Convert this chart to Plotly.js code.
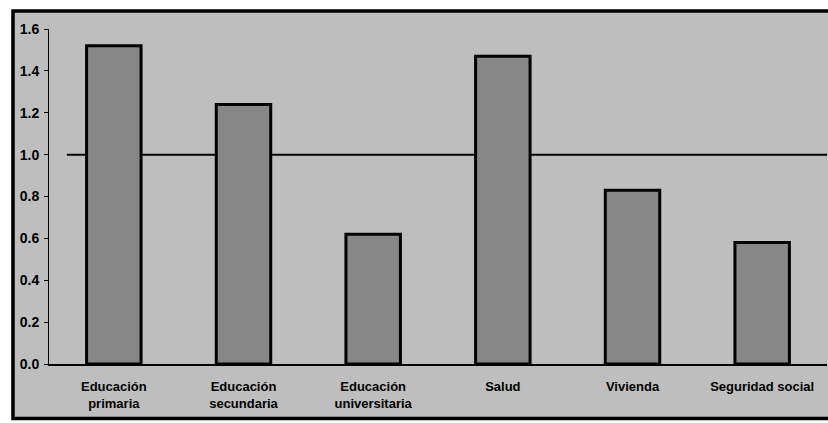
<!DOCTYPE html>
<html>
<head>
<meta charset="utf-8">
<script src="https://cdn.plot.ly/plotly-3.0.1.min.js"></script>
<style>
html,body{margin:0;padding:0;background:#ffffff;}
#chart{width:828px;height:423px;}
</style>
</head>
<body>
<div id="chart"></div>
<script>
const categories = ["Educación<br>primaria", "Educación<br>secundaria", "Educación<br>universitaria", "Salud", "Vivienda", "Seguridad social"];
const values = [1.52, 1.24, 0.62, 1.47, 0.83, 0.58];
const referenceValue = 1.0;
const yTicks = [0, 0.2, 0.4, 0.6, 0.8, 1.0, 1.2, 1.4, 1.6];
const yTickLabels = ["0.0", "0.2", "0.4", "0.6", "0.8", "1.0", "1.2", "1.4", "1.6"];

const trace = {
  type: "bar",
  x: categories,
  y: values,
  marker: {color: "#878787", line: {color: "#000000", width: 3}},
  width: 0.42,
  hoverinfo: "none"
};

const layout = {
  width: 828, height: 423,
  margin: {l: 49, r: 1, t: 29, b: 59},
  paper_bgcolor: "#ffffff",
  plot_bgcolor: "rgba(0,0,0,0)",
  showlegend: false,
  font: {family: "Liberation Sans, Arial, sans-serif", color: "#000000"},
  xaxis: {
    range: [-0.5, 5.5],
    showline: true, linecolor: "#000000", linewidth: 1.5,
    ticks: "", showgrid: false, zeroline: false,
    tickfont: {size: 13, weight: "bold", color: "#000000"},
    ticklabelstandoff: 10
  },
  yaxis: {
    range: [0, 1.6],
    tickvals: yTicks, ticktext: yTickLabels,
    showline: true, linecolor: "#000000", linewidth: 1,
    ticks: "outside", ticklen: 4, tickcolor: "#000000", tickwidth: 1,
    showgrid: false, zeroline: false,
    tickfont: {size: 14, weight: "bold", color: "#000000"},
    ticklabelstandoff: 2
  },
  shapes: [
    {type: "rect", xref: "paper", yref: "paper", x0: -0.0463, x1: 1.02, y0: -0.163, y1: 1.0537,
     fillcolor: "#bebebe", line: {color: "#000000", width: 3.5}, layer: "below"},
    {type: "line", xref: "paper", yref: "y", x0: 0.023, x1: 1, y0: referenceValue, y1: referenceValue,
     line: {color: "#000000", width: 2}, layer: "below"}
  ]
};

Plotly.newPlot("chart", [trace], layout, {displayModeBar: false, staticPlot: true});
</script>
</body>
</html>
